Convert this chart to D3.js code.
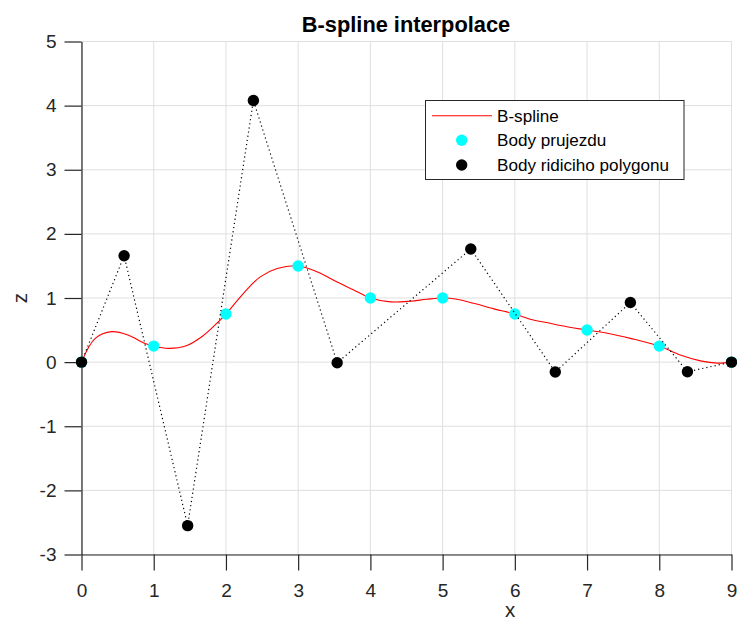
<!DOCTYPE html>
<html lang="cs">
<head>
    <meta charset="UTF-8">
    <script src="https://d3js.org/d3.v7.min.js"></script>
    <title>B-spline interpolace</title>
    <style>
        body{
            margin: 0;
            background: #fff;
            font-family: "Liberation Sans", Arial, sans-serif;
        }
        svg{
            display: block;
        }
        .tick text{
            font-size: 19px;
            fill: #262626;
        }
    </style>
</head>
<body>
<svg width="737" height="620"></svg>
<script>
// body prujezdu (interpolated points)
const passX = [0, 1, 2, 3, 4, 5, 6, 7, 8, 9]
const passZ = [0, 0.25, 0.75, 1.5, 1, 1, 0.75, 0.5, 0.25, 0]
// body ridiciho polygonu (control polygon)
const ctrlX = [0, 0.59, 1.47, 2.38, 3.54, 5.39, 6.56, 7.60, 8.39, 9]
const ctrlZ = [0, 1.66, -2.55, 4.08, -0.01, 1.765, -0.155, 0.93, -0.15, 0]
// B-spline curve
const splineX = [0, 0.19, 0.42, 0.65, 0.88, 1, 1.2, 1.44, 1.67, 1.85, 2, 2.24, 2.475, 2.71, 3,
    3.26, 3.54, 3.77, 4, 4.28, 4.55, 4.78, 5, 5.2, 5.43, 5.71, 6, 6.21, 6.49, 6.63, 7, 7.28, 7.6,
    8, 8.29, 8.57, 8.8, 9]
const splineZ = [0, 0.37, 0.475, 0.42, 0.29, 0.25, 0.215, 0.25, 0.40, 0.58, 0.75, 1.07, 1.33, 1.46, 1.5,
    1.41, 1.25, 1.125, 1, 0.94, 0.95, 0.98, 1, 0.98, 0.917, 0.83, 0.75, 0.67, 0.605, 0.57, 0.5, 0.45, 0.37,
    0.25, 0.11, 0.02, -0.015, 0]
const xTicks = [0, 1, 2, 3, 4, 5, 6, 7, 8, 9]
const yTicks = [-3, -2, -1, 0, 1, 2, 3, 4, 5]
const legendLabels = ["B-spline", "Body prujezdu", "Body ridiciho polygonu"]

let svg = d3.select("svg")
let x = d3.scaleLinear().domain([0, 9]).range([81.5, 731.5])
let y = d3.scaleLinear().domain([-3, 5]).range([554.5, 41.5])

// grid
svg.append("g").selectAll("line").data(xTicks).join("line")
    .attr("x1", d => x(d)).attr("x2", d => x(d))
    .attr("y1", y(-3)).attr("y2", y(5))
    .attr("stroke", "#dfdfdf")
svg.append("g").selectAll("line").data(yTicks).join("line")
    .attr("x1", x(0)).attr("x2", x(9))
    .attr("y1", d => y(d)).attr("y2", d => y(d))
    .attr("stroke", "#dfdfdf")

// axes (plain hyphen minus like the original)
let fmt = d => String(d)
svg.append("g").attr("transform", "translate(0," + y(-3) + ")")
    .call(d3.axisBottom(x).tickValues(xTicks).tickFormat(fmt).tickSize(16).tickPadding(13).tickSizeOuter(0))
svg.append("g").attr("transform", "translate(" + x(0) + ",0)")
    .call(d3.axisLeft(y).tickValues(yTicks).tickFormat(fmt).tickSize(17).tickPadding(8).tickSizeOuter(0))
svg.selectAll(".domain, .tick line").attr("stroke", "#262626").attr("stroke-width", 1.2)
svg.selectAll(".tick text").attr("font-family", null)

// B-spline
let line = d3.line().x(d => x(d[0])).y(d => y(d[1])).curve(d3.curveCatmullRom.alpha(0.5))
svg.append("path")
    .attr("d", line(d3.zip(splineX, splineZ)))
    .attr("fill", "none").attr("stroke", "#ff0000").attr("stroke-width", 1.1)

// body prujezdu
svg.append("g").selectAll("circle").data(d3.zip(passX, passZ)).join("circle")
    .attr("cx", d => x(d[0])).attr("cy", d => y(d[1])).attr("r", 5.7)
    .attr("fill", "#00ffff")

// ridici polygon
let poly = d3.line().x(d => x(d[0])).y(d => y(d[1]))
svg.append("path")
    .attr("d", poly(d3.zip(ctrlX, ctrlZ)))
    .attr("fill", "none").attr("stroke", "#000").attr("stroke-width", 1.2)
    .attr("stroke-dasharray", "1.2,3")
svg.append("g").selectAll("circle").data(d3.zip(ctrlX, ctrlZ)).join("circle")
    .attr("cx", d => x(d[0])).attr("cy", d => y(d[1])).attr("r", 5.7)
    .attr("fill", "#000")

// titles
svg.append("text").attr("x", 406).attr("y", 32).attr("text-anchor", "middle")
    .attr("font-size", 21.8).attr("font-weight", "bold").attr("fill", "#000")
    .text("B-spline interpolace")
svg.append("text").attr("x", 510).attr("y", 617).attr("text-anchor", "middle")
    .attr("font-size", 20.5).attr("fill", "#262626").text("x")
svg.append("text").attr("transform", "translate(27,298) rotate(-90)").attr("text-anchor", "middle")
    .attr("font-size", 20.5).attr("fill", "#262626").text("z")

// legend
let lg = svg.append("g")
lg.append("rect").attr("x", 425.5).attr("y", 100.5).attr("width", 258.5).attr("height", 79)
    .attr("fill", "#fff").attr("stroke", "#262626").attr("stroke-width", 1)
let rowY = [115.7, 140.3, 165]
lg.append("line").attr("x1", 432).attr("x2", 492).attr("y1", rowY[0]).attr("y2", rowY[0])
    .attr("stroke", "#ff0000").attr("stroke-width", 1.1)
lg.append("circle").attr("cx", 461.7).attr("cy", rowY[1]).attr("r", 5.7).attr("fill", "#00ffff")
lg.append("circle").attr("cx", 461.7).attr("cy", rowY[2]).attr("r", 5.7).attr("fill", "#000")
lg.selectAll("text").data(legendLabels).join("text")
    .attr("x", 497).attr("y", (d, i) => rowY[i]).attr("dy", "0.36em")
    .attr("font-size", 17.1).attr("fill", "#000")
    .text(d => d)
</script>
</body>
</html>
